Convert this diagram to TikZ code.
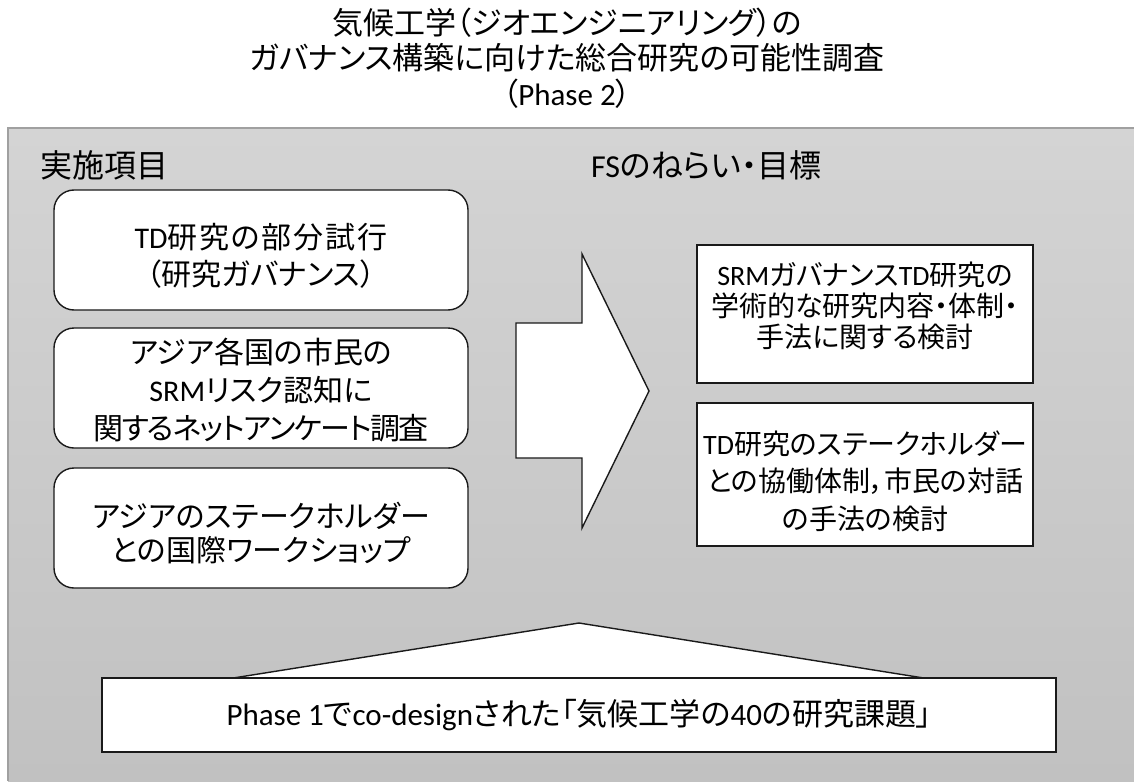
\documentclass[tikz,border=0pt]{standalone}
\usepackage{fontspec}
\setmainfont{Noto Sans CJK JP}[CharacterWidth=AlternateProportional]
\newfontfamily\lat{Carlito}
\definecolor{bgtop}{HTML}{D4D4D4}
\definecolor{bgbot}{HTML}{C1C1C1}
\definecolor{bgedge}{HTML}{A0A0A0}
\definecolor{ink}{HTML}{1A1A1A}
\tikzset{
  lbox/.style={draw=ink, line width=1.4pt, rounded corners=20pt, fill=white,
    minimum width=414pt, minimum height=120pt, align=center, inner sep=0pt},
  rbox/.style={draw=ink, line width=1.8pt, fill=white, minimum width=336pt,
    align=center, inner sep=0pt},
  boxtext/.style={align=center, inner sep=0pt},
  shapeline/.style={draw=ink, line width=1.4pt, fill=white, line join=miter},
  head/.style={font=\fontsize{32}{36}\selectfont, inner sep=0pt},
}
\begin{document}
\begin{tikzpicture}[x=1pt,y=-1pt]
\useasboundingbox (0,0) rectangle (1134,781);
% background panel
\shade[top color=bgtop, bottom color=bgbot] (8,128) rectangle (1134,781);
\draw[bgedge, line width=1.5pt] (8,781) -- (8,128) -- (1134,128);
% title
\node[align=center, inner sep=0pt, font=\fontsize{31}{35.5}\selectfont] (title) at (567,58)
  {気候工学（ジオエンジニアリング）の\\ガバナンス構築に向けた総合研究の可能性調査\\（{\lat Phase 2}）};
% headers
\node[head, anchor=west] (h1) at (40,165) {実施項目};
\node[head, anchor=west] (h2) at (591,165) {{\lat FS}のねらい・目標};
% triangle and bottom box
\coordinate (tl) at (227,679);
\coordinate (tp) at (579,623);
\coordinate (tr) at (930,679);
\path[shapeline] (tl) -- (tp) -- (tr);
\node[draw=ink, line width=1.8pt, fill=white, minimum width=954pt, minimum height=74pt,
  inner sep=0pt, font=\fontsize{31}{35}\selectfont] (base) at (579,715)
  {{\lat Phase 1}で{\lat co-design}された「気候工学の{\lat 40}の研究課題」};
% big arrow
\path[shapeline] (516,323) -- (582,323) -- (582,254) -- (649,391) -- (582,528) -- (582,458) -- (516,458) -- cycle;
% left boxes
\node[lbox] (l1) at (261,250) {};
\node[boxtext, font=\fontsize{30}{37}\selectfont] (l1t) at (261,256)
  {{\lat TD}\addfontfeatures{LetterSpace=6}研究の部分試行\\（研究ガバナンス）};
\node[lbox] (l2) at (261,388) {};
\node[boxtext, font=\fontsize{30}{38}\selectfont] (l2t) at (261,390)
  {アジア各国の市民の\\{\lat SRM}リスク認知に\\{\addfontfeatures{LetterSpace=-5}関するネットアンケート調査}};
\node[lbox] (l3) at (261,528) {};
\node[boxtext, font=\fontsize{30}{34}\selectfont] (l3t) at (261,533)
  {アジアのステークホルダー\\との国際ワークショップ};
% right boxes
\node[rbox, minimum height=138pt] (r1) at (865,314) {};
\node[boxtext, font=\fontsize{28}{31}\selectfont] (r1t) at (865,306)
  {{\lat SRM}ガバナンス{\lat TD}研究の\\学術的な研究内容・体制・\\手法に関する検討};
\node[rbox, minimum height=143pt] (r2) at (865,474.5) {};
\node[boxtext, font=\fontsize{28}{37.5}\selectfont] (r2t) at (865,481)
  {{\lat TD}研究のステークホルダー\\との協働体制，市民の対話\\の手法の検討};
\end{tikzpicture}
\end{document}
